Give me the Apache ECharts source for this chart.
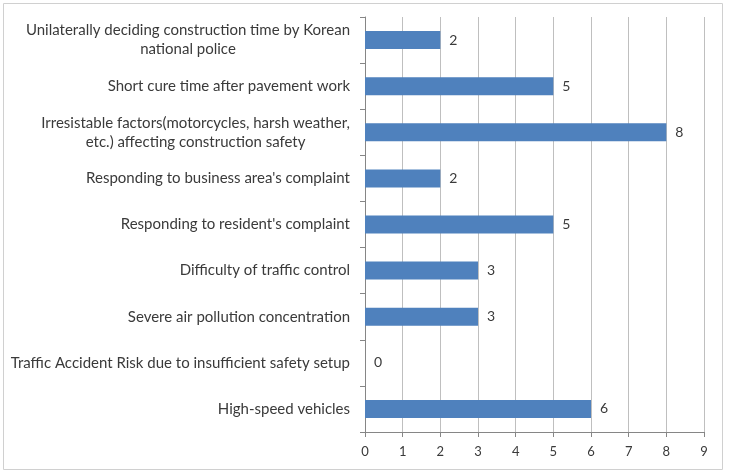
<!DOCTYPE html>
<html>
<head>
<meta charset="utf-8">
<script src="https://cdn.jsdelivr.net/npm/echarts@6/dist/echarts.min.js"></script>
<style>
  html, body { margin: 0; padding: 0; background: #fff; }
  #chart { width: 732px; height: 473px; }
</style>
</head>
<body>
<div id="chart"></div>
<script>
const categories = [
  'Unilaterally deciding construction time by Korean\nnational police',
  'Short cure time after pavement work',
  'Irresistable factors(motorcycles, harsh weather,\netc.) affecting construction safety',
  "Responding to business area's complaint",
  "Responding to resident's complaint",
  'Difficulty of traffic control',
  'Severe air pollution concentration',
  'Traffic Accident Risk due to insufficient safety setup',
  'High-speed vehicles'
];
const counts = [2, 5, 8, 2, 5, 3, 3, 0, 6];
const xTicks = [0, 9, 1]; // min, max, interval

const textColor = '#3a3a3a';
const fontFamily = 'Lato, "Open Sans", sans-serif';

const chart = echarts.init(document.getElementById('chart'));
chart.setOption({
  animation: false,
  graphic: [{
    type: 'rect',
    shape: {x: 3.5, y: 3.5, width: 719, height: 466},
    style: {fill: 'none', stroke: '#d0d0d0', lineWidth: 1},
    silent: true
  }],
  grid: {left: 365, right: 28, top: 17, bottom: 41},
  xAxis: {
    type: 'value',
    min: xTicks[0],
    max: xTicks[1],
    interval: xTicks[2],
    axisLine: {show: true, lineStyle: {color: '#868686'}},
    axisTick: {show: true, length: 5, lineStyle: {color: '#868686'}},
    axisLabel: {color: textColor, fontFamily, fontSize: 13, margin: 13},
    splitLine: {show: true, lineStyle: {color: '#bfbfbf'}}
  },
  yAxis: {
    type: 'category',
    inverse: true,
    data: categories,
    axisLine: {show: true, lineStyle: {color: '#868686'}},
    axisTick: {show: true, length: 5, lineStyle: {color: '#868686'}},
    axisLabel: {
      margin: 15,
      formatter: v => v.split('\n').map(l => '{c|' + l + '}').join('\n'),
      rich: {
        c: {align: 'center', color: textColor, fontFamily, fontSize: 15, lineHeight: 19}
      }
    },
    splitLine: {show: false}
  },
  series: [{
    type: 'bar',
    data: counts,
    barWidth: 18,
    itemStyle: {color: '#4F81BD'},
    label: {
      show: true,
      position: 'right',
      distance: 9,
      color: textColor,
      fontFamily,
      fontSize: 14
    }
  }]
});
</script>
</body>
</html>
